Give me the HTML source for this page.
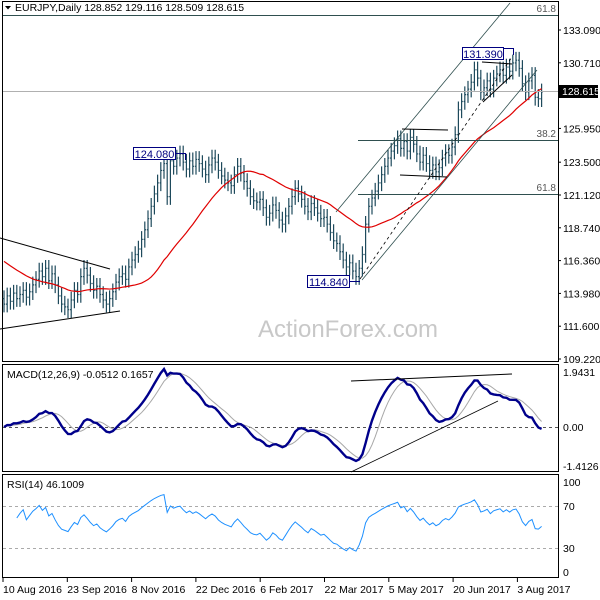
<!DOCTYPE html>
<html><head><meta charset="utf-8"><style>
html,body{margin:0;padding:0;background:#fff;}
svg{display:block;font-family:"Liberation Sans",sans-serif;}
</style></head><body>
<svg id="chart" width="600" height="600" viewBox="0 0 600 600" xmlns="http://www.w3.org/2000/svg">
  <rect x="0" y="0" width="600" height="600" fill="#fff"/>
  <rect x="2.5" y="1.5" width="556" height="360" fill="none" stroke="#000"/>
  <rect x="2.5" y="364.5" width="556" height="107" fill="none" stroke="#000"/>
  <rect x="2.5" y="474.5" width="556" height="103" fill="none" stroke="#000"/>
  <text x="348" y="337" font-size="24" fill="#c8c8c8" text-anchor="middle">ActionForex.com</text>
  <g id="price"></g>
  <g id="ann">
    <line x1="3" y1="15.5" x2="558" y2="15.5" stroke="#2f4f4f" stroke-width="1"/>
    <text x="556" y="12" font-size="10" fill="#555" text-anchor="end">61.8</text>
    <line x1="358" y1="140.5" x2="558" y2="140.5" stroke="#2f4f4f"/>
    <text x="556" y="137" font-size="10" fill="#555" text-anchor="end">38.2</text>
    <line x1="358" y1="194.5" x2="558" y2="194.5" stroke="#2f4f4f"/>
    <text x="556" y="191" font-size="10" fill="#555" text-anchor="end">61.8</text>
    <line x1="3" y1="91.5" x2="558" y2="91.5" stroke="#b0b0b0"/>
    <line x1="336" y1="212" x2="510" y2="3" stroke="#2f4f4f" stroke-width="0.8"/>
    <line x1="362" y1="280" x2="537" y2="70" stroke="#2f4f4f" stroke-width="0.8"/>
    <line x1="360" y1="279" x2="512" y2="57" stroke="#000" stroke-width="0.8" stroke-dasharray="3,3"/>
    <line x1="483" y1="102" x2="512" y2="75" stroke="#000"/>
    <line x1="482" y1="62" x2="512" y2="64" stroke="#000"/>
    <line x1="402" y1="129" x2="448" y2="130" stroke="#000"/>
    <line x1="400" y1="175" x2="447" y2="177" stroke="#000"/>
    <line x1="0" y1="238" x2="110" y2="269" stroke="#000"/>
    <line x1="0" y1="329" x2="120" y2="311" stroke="#000"/>
    <rect x="133.5" y="147.5" width="42" height="12" fill="#fff" stroke="#000080"/>
    <text x="154.5" y="158" font-size="11" fill="#000080" text-anchor="middle">124.080</text>
    <polyline points="176,153.5 185.5,153.5 185.5,160" fill="none" stroke="#000080"/>
    <rect x="307.5" y="275.5" width="42" height="12" fill="#fff" stroke="#000080"/>
    <text x="328.5" y="286" font-size="11" fill="#000080" text-anchor="middle">114.840</text>
    <line x1="350" y1="281.5" x2="360" y2="281.5" stroke="#000080"/>
    <rect x="462.5" y="47.5" width="41" height="12" fill="#fff" stroke="#000080"/>
    <text x="483" y="58" font-size="11" fill="#000080" text-anchor="middle">131.390</text>
    <polyline points="504,48.5 513.5,48.5 513.5,55" fill="none" stroke="#000080"/>
  </g>
  <g id="axis"></g>
  <rect x="559" y="85" width="39" height="13" fill="#000"/>
  <text x="562" y="95" font-size="10.5" fill="#fff">128.615</text>
  <polygon points="5,6 11,6 8,9.5" fill="#000"/>
  <text x="15" y="11" font-size="10.5" fill="#000">EURJPY,Daily  128.852 129.116 128.509 128.615</text>
  <line x1="3" y1="427.5" x2="558" y2="427.5" stroke="#555" stroke-dasharray="3,3"/>
  <g id="macd"></g>
  <line x1="351" y1="381" x2="512" y2="374" stroke="#000"/>
  <line x1="351" y1="472" x2="498" y2="401" stroke="#000" stroke-width="0.8"/>
  <text x="7" y="378" font-size="10.5" fill="#000">MACD(12,26,9) -0.0512 0.1657</text>
  <text x="563" y="376" font-size="10.5" fill="#000">1.9431</text>
  <text x="563" y="431" font-size="10.5" fill="#000">0.00</text>
  <text x="563" y="470" font-size="10.5" fill="#000">-1.4126</text>
  <line x1="3" y1="506.5" x2="558" y2="506.5" stroke="#aaa" stroke-dasharray="3,3"/>
  <line x1="3" y1="548.5" x2="558" y2="548.5" stroke="#aaa" stroke-dasharray="3,3"/>
  <g id="rsi"></g>
  <text x="7" y="488" font-size="10.5" fill="#000">RSI(14) 46.1009</text>
  <text x="563" y="486" font-size="10.5" fill="#000">100</text>
  <text x="563" y="510" font-size="10.5" fill="#000">70</text>
  <text x="563" y="552" font-size="10.5" fill="#000">30</text>
  <text x="563" y="576" font-size="10.5" fill="#000">0</text>
  <g id="dates"></g>
</svg>
<script>
const priorCloses=[118.6,118.4,118.7,118.2,118.0,118.3,117.9,117.6,117.8,117.4,
117.2,117.5,117.0,116.8,116.5,116.9,116.3,116.0,115.7,115.9,
115.4,115.1,114.8,114.5,114.2,113.9,114.1,113.7,113.5];
const closes=[113.2,113.8,113.4,114.0,113.6,113.9,114.2,113.7,114.1,114.6,
115.0,115.6,115.2,115.8,114.9,115.4,114.6,113.8,113.2,113.0,
112.8,113.5,114.2,113.9,115.2,115.8,115.3,114.7,114.2,114.5,
113.9,113.5,113.2,113.6,114.1,114.8,115.2,115.4,115.0,115.9,
116.4,116.8,117.2,117.9,118.6,119.4,120.3,121.2,122.0,122.9,
123.4,121.0,123.6,123.2,123.8,124.1,123.5,123.0,123.6,123.2,
123.7,123.4,123.0,122.6,123.3,123.8,123.5,122.9,122.5,122.2,
122.0,121.8,122.6,123.2,122.7,122.1,121.6,121.0,120.7,120.6,
120.8,120.2,119.5,119.8,120.4,120.0,119.3,119.0,119.6,120.3,
121.0,121.6,121.2,120.8,120.3,119.9,120.5,120.2,119.8,119.4,
119.5,119.0,118.4,117.8,117.6,117.0,116.4,115.9,116.2,115.6,
115.2,115.8,116.8,119.0,120.3,120.9,121.4,122.0,122.6,123.2,
123.8,124.3,124.7,125.2,124.5,125.0,124.3,125.3,124.8,124.1,
123.5,124.0,123.4,122.9,123.3,122.8,123.1,123.8,124.2,124.0,
124.6,125.5,127.3,127.9,128.4,128.8,129.3,130.2,129.6,128.6,
128.9,129.4,128.8,129.6,129.9,130.2,129.8,130.4,130.1,130.7,
130.9,130.3,129.2,128.6,129.4,129.8,128.2,128.1,128.6];
const firstOpen=113.6;
const priceTicks=[133.090,130.710,125.950,123.500,121.120,118.740,116.360,113.980,111.600,109.220];
const dateLabels=["10 Aug 2016","23 Sep 2016","8 Nov 2016","22 Dec 2016","6 Feb 2017","22 Mar 2017","5 May 2017","20 Jun 2017","3 Aug 2017"];
const NS="http://www.w3.org/2000/svg";
const xOf=i=>4+i*3.2;
const yP=p=>30+(133.09-p)/0.07255;
const yM=v=>427-v*28.3;
const yR=v=>572-v*0.9;
function mk(tag,attrs,parent){const e=document.createElementNS(NS,tag);for(const k in attrs)e.setAttribute(k,attrs[k]);parent.appendChild(e);return e;}
const gP=document.getElementById('price');
let d="";
closes.forEach((c,i)=>{
  const o=i?closes[i-1]:firstOpen;
  const h=Math.max(o,c)+0.6,l=Math.min(o,c)-0.6,x=xOf(i);
  d+=`M${x} ${yP(h)}V${yP(l)}M${x-1.2} ${yP(o)}H${x}M${x} ${yP(c)}H${x+1.2}`;
});
const bars=mk('path',{d:d,stroke:'#1e4a5c','stroke-width':1.2,fill:'none'},gP);


const per=30;const all=priorCloses.concat(closes);const off=priorCloses.length;let ma=[];
closes.forEach((c,i)=>{const j=i+off;const s=all.slice(Math.max(0,j-per+1),j+1);ma.push(s.reduce((a,b)=>a+b,0)/s.length);});
const maLine=mk('polyline',{points:ma.map((v,i)=>xOf(i)+','+yP(v)).join(' '),fill:'none',stroke:'#e00000','stroke-width':1.2},gP);


const gA=document.getElementById('axis');
priceTicks.forEach(p=>{
  const t=mk('text',{x:563,y:yP(p)+4,'font-size':10.5,fill:'#000'},gA);t.textContent=p.toFixed(3);
  
  
  const tk=mk('line',{x1:558,x2:561,y1:yP(p),y2:yP(p),stroke:'#000'},gA);
  
  
});
function ema(a,n){const k=2/(n+1);let r=[a[0]];for(let i=1;i<a.length;i++)r.push(a[i]*k+r[i-1]*(1-k));return r;}
const ef=ema(closes,8),es=ema(closes,17);
const macd=closes.map((c,i)=>ef[i]-es[i]);
const sig=macd.map((v,i)=>{const s=macd.slice(Math.max(0,i-5),i+1);return s.reduce((a,b)=>a+b,0)/s.length;});
const gM=document.getElementById('macd');
const sl=mk('polyline',{points:sig.map((v,i)=>xOf(i)+','+yM(v)).join(' '),fill:'none',stroke:'#a8a8a8','stroke-width':1},gM);


const ml=mk('polyline',{points:macd.map((v,i)=>xOf(i)+','+yM(v)).join(' '),fill:'none',stroke:'#00008b','stroke-width':2.4},gM);


const n=14;let ag=0,al=0,rsi=[];
for(let i=1;i<closes.length;i++){
  const ch=closes[i]-closes[i-1],g=Math.max(ch,0),lo=Math.max(-ch,0);
  if(i<=n){ag+=g/n;al+=lo/n;}else{ag=(ag*(n-1)+g)/n;al=(al*(n-1)+lo)/n;}
  if(i>=4)rsi.push([i,al===0?100:100-100/(1+ag/al)]);
}
const gR=document.getElementById('rsi');
const rl=mk('polyline',{points:rsi.map(([i,v])=>xOf(i)+','+yR(v)).join(' '),fill:'none',stroke:'#1e90ff','stroke-width':1},gR);


const gD=document.getElementById('dates');
dateLabels.forEach((s,k)=>{
  const x=3+k*64.3;
  const t=mk('text',{x:x,y:593,'font-size':10.5,fill:'#000'},gD);t.textContent=s;
  
  
  const tk=mk('line',{x1:x,x2:x,y1:578,y2:582,stroke:'#000'},gD);
  
  
});
</script>
</body></html>
